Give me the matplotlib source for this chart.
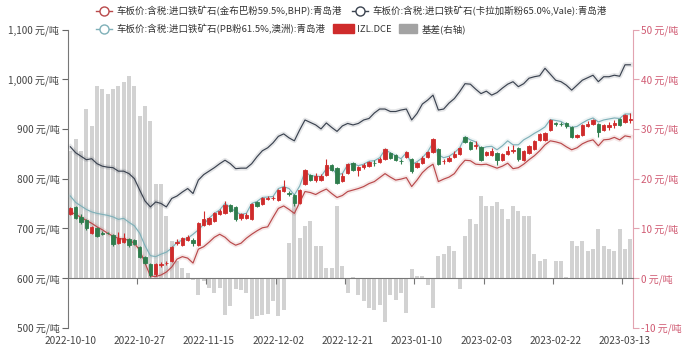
import matplotlib
matplotlib.use('Agg')
import matplotlib.pyplot as plt
import matplotlib.patheffects as pe
from matplotlib.lines import Line2D
from matplotlib.patches import Patch
from matplotlib.ticker import FuncFormatter, FixedLocator
import numpy as np

plt.rcParams['font.family'] = ['Noto Sans CJK SC', 'DejaVu Sans']

tick_labels = ['2022-10-10', '2022-10-27', '2022-11-15', '2022-12-02', '2022-12-21',
               '2023-01-10', '2023-02-03', '2023-02-22', '2023-03-13']
label_step = 13

bhp = [733, 728, 722, 716, 710, 703, 697, 690, 684, 680,
       678, 676, 670, 656, 630, 604, 603, 606, 612, 622,
       638, 643, 640, 630, 658, 663, 672, 682, 688, 682,
       672, 666, 670, 680, 688, 695, 701, 703, 722, 740,
       745, 738, 730, 752, 774, 772, 768, 774, 779, 770,
       762, 766, 774, 777, 780, 784, 790, 794, 802, 810,
       803, 797, 799, 802, 784, 797, 812, 822, 829, 794,
       799, 803, 810, 825, 837, 836, 829, 828, 829, 825,
       821, 825, 831, 820, 822, 829, 838, 846, 856, 868,
       876, 874, 871, 864, 858, 862, 870, 875, 878, 866,
       878, 879, 883, 878, 886, 884]

vale = [864, 852, 845, 838, 840, 830, 825, 823, 822, 815,
        815, 810, 800, 777, 755, 743, 753, 750, 743, 760,
        765, 773, 780, 770, 797, 808, 815, 822, 830, 837,
        830, 820, 821, 821, 830, 844, 856, 862, 872, 885,
        890, 882, 876, 898, 918, 913, 908, 900, 912, 903,
        895, 906, 911, 908, 911, 918, 921, 932, 940, 940,
        935, 935, 938, 940, 918, 931, 950, 958, 968, 938,
        940, 952, 961, 975, 991, 990, 980, 971, 976, 968,
        973, 982, 990, 995, 985, 991, 1002, 1005, 1007, 1022,
        1010, 998, 995, 988, 978, 988, 998, 1003, 1008, 995,
        1005, 1005, 1008, 1006, 1029, 1029]

pb = [765, 752, 745, 738, 733, 730, 728, 726, 723, 718,
      720, 712, 705, 690, 665, 645, 643, 648, 652, 660,
      672, 676, 680, 688, 697, 708, 720, 730, 737, 750,
      742, 733, 728, 730, 750, 754, 762, 763, 764, 780,
      784, 780, 767, 785, 814, 806, 805, 804, 820, 822,
      808, 810, 828, 830, 826, 829, 835, 836, 842, 858,
      852, 846, 840, 852, 828, 834, 842, 854, 872, 848,
      842, 845, 852, 862, 884, 878, 874, 860, 864, 865,
      858, 866, 876, 868, 868, 878, 884, 891, 897, 904,
      919, 917, 915, 908, 903, 905, 912, 918, 922, 914,
      918, 920, 922, 921, 930, 930]

izl_open = [729, 743, 723, 717, 691, 701, 690, 691, 686, 671,
            672, 678, 676, 663, 643, 628, 608, 627, 630, 634,
            671, 666, 677, 676, 666, 707, 709, 715, 729, 731,
            746, 743, 721, 720, 718, 752, 749, 759, 760, 757,
            776, 772, 767, 750, 790, 808, 797, 798, 808, 828,
            822, 795, 812, 831, 818, 823, 826, 832, 834, 840,
            852, 848, 836, 844, 840, 824, 832, 844, 854, 860,
            835, 836, 844, 850, 883, 874, 866, 864, 847, 848,
            851, 838, 850, 855, 862, 838, 851, 860, 877, 877,
            897, 911, 910, 911, 903, 883, 887, 906, 910, 910,
            897, 904, 907, 920, 913, 918]
izl_close = [740, 720, 712, 700, 703, 685, 689, 690, 668, 680,
             680, 666, 669, 643, 631, 606, 628, 628, 631, 663,
             673, 680, 683, 670, 710, 718, 720, 730, 735, 746,
             734, 718, 728, 727, 749, 745, 760, 760, 761, 778,
             783, 770, 750, 777, 818, 798, 805, 806, 828, 818,
             792, 806, 829, 817, 824, 827, 834, 831, 840, 860,
             842, 838, 835, 854, 815, 832, 842, 854, 880, 830,
             836, 842, 850, 862, 874, 860, 868, 837, 854, 855,
             838, 849, 856, 858, 839, 855, 865, 875, 890, 892,
             918, 910, 909, 906, 884, 887, 907, 909, 917, 893,
             907, 908, 912, 907, 927, 920]
izl_low = [727, 718, 708, 697, 689, 683, 686, 688, 665, 669,
           670, 663, 667, 640, 628, 603, 605, 622, 626, 632,
           666, 664, 675, 664, 664, 705, 706, 713, 726, 729,
           732, 715, 716, 718, 716, 743, 747, 756, 756, 755,
           774, 765, 745, 748, 788, 795, 793, 795, 806, 815,
           790, 793, 810, 815, 806, 820, 824, 826, 832, 838,
           840, 835, 830, 842, 812, 822, 830, 842, 852, 828,
           830, 834, 842, 848, 872, 858, 860, 835, 845, 845,
           828, 836, 848, 852, 836, 836, 849, 858, 875, 875,
           895, 906, 905, 902, 882, 881, 885, 903, 908, 883,
           895, 898, 902, 905, 911, 912]
izl_high = [742, 745, 728, 719, 705, 703, 694, 693, 688, 692,
            690, 681, 679, 665, 645, 630, 631, 633, 635, 665,
            678, 683, 686, 680, 712, 735, 722, 733, 738, 755,
            748, 745, 730, 730, 751, 755, 762, 764, 764, 780,
            797, 776, 770, 780, 820, 810, 812, 810, 840, 830,
            824, 812, 831, 833, 826, 832, 836, 838, 843, 862,
            854, 850, 840, 856, 842, 834, 845, 856, 882, 862,
            840, 845, 856, 864, 886, 876, 876, 866, 856, 862,
            853, 851, 866, 868, 864, 857, 867, 877, 892, 894,
            920, 914, 913, 914, 905, 889, 909, 916, 919, 912,
            909, 914, 918, 922, 929, 932]

basis = [25.5, 28.0, 25.5, 34.0, 30.5, 38.6, 38.0, 37.0, 38.0, 38.6,
         39.5, 40.6, 38.6, 32.5, 34.6, 31.5, 19.0, 19.0, 12.5, 7.4,
         3.5, 2.0, 1.0, -0.4, -3.4, -0.7, -2.1, -3.1, -2.0, -7.5,
         -5.6, -2.2, -2.5, -3.0, -8.2, -7.7, -7.5, -7.2, -4.6, -7.6,
         -6.4, 7.0, 16.2, 8.0, 10.5, 11.4, 6.5, 6.5, 2.0, 2.0,
         14.5, 2.4, -3.0, 0.3, -3.5, -4.6, -6.0, -6.5, -5.5, -8.8,
         -3.4, -4.4, -3.0, -7.0, 1.9, 0.4, 0.4, -1.5, -6.0, 4.4,
         4.9, 6.4, 5.4, -2.2, 8.4, 11.9, 10.9, 16.4, 14.4, 14.4,
         15.3, 13.8, 11.9, 14.4, 13.4, 12.4, 12.4, 4.9, 3.4, 3.9,
         0.0, 3.4, 3.4, 0.3, 7.4, 6.4, 7.4, 5.4, 5.9, 9.9,
         6.4, 5.9, 5.4, 9.9, 5.9, 7.9]

names = ['车板价:含税:进口铁矿石(金布巴粉59.5%,BHP):青岛港',
         '车板价:含税:进口铁矿石(卡拉加斯粉65.0%,Vale):青岛港',
         '车板价:含税:进口铁矿石(PB粉61.5%,澳洲):青岛港',
         'IZL.DCE', '基差(右轴)']

c_bhp = '#b9494b'
c_vale = '#3b4350'
c_pb = '#7fb0b8'
c_up = '#cf2b2b'
c_down = '#2f7d4d'
c_bar = '#d2d2d2'
c_right = '#d05a72'

n = len(bhp)
x = np.arange(n)

W, H = 700, 356
fig = plt.figure(figsize=(W / 100, H / 100), dpi=100)
ax = fig.add_axes([0.0967, 0.0795, 0.8076, 0.8376])
ax2 = ax.twinx()

# basis bars on right axis (drawn beneath)
ax2.bar(x, basis, width=0.72, color=c_bar, zorder=1)
ax2.set_ylim(-10, 50)
ax2.set_yticks(np.arange(-10, 51, 10))
ax2.yaxis.set_major_formatter(FuncFormatter(lambda v, p: f'{v:.0f} 元/吨'))
ax2.tick_params(axis='y', colors=c_right, labelsize=7.2, length=4, width=0.8, pad=2)
ax2.tick_params(axis='y', color='#e2a3b0')
for s in ['top', 'left', 'bottom']:
    ax2.spines[s].set_visible(False)
ax2.spines['right'].set_color('#e2a3b0')

ax.set_zorder(ax2.get_zorder() + 1)
ax.patch.set_visible(False)

glow = lambda c: [pe.Stroke(linewidth=3.4, foreground=c, alpha=0.13), pe.Normal()]
ax.plot(x, vale, color=c_vale, lw=0.85, path_effects=glow(c_vale), zorder=3)
ax.plot(x, bhp, color=c_bhp, lw=0.85, path_effects=glow(c_bhp), zorder=3)
ax.plot(x, pb, color=c_pb, lw=0.85, path_effects=glow(c_pb), zorder=3)

o = np.array(izl_open); c = np.array(izl_close)
lo = np.array(izl_low); hi = np.array(izl_high)
up = c >= o
cols = np.where(up, c_up, c_down)
ax.vlines(x, lo, hi, colors=cols, lw=0.8, zorder=4)
ax.bar(x, np.abs(c - o), bottom=np.minimum(o, c), width=0.66, color=cols,
       edgecolor=cols, linewidth=0.6, zorder=5)

ax.set_xlim(-0.5, n - 0.5)
ax.set_ylim(500, 1100)
ax.set_yticks(np.arange(500, 1101, 100))
ax.yaxis.set_major_formatter(FuncFormatter(lambda v, p: f'{v:,.0f} 元/吨'))
ax.tick_params(axis='y', labelcolor='#444444', labelsize=7.2, length=4, width=0.8,
               pad=2, color='#666666')

pos = np.arange(len(tick_labels)) * label_step
ax.xaxis.set_major_locator(FixedLocator(pos))
ax.set_xticklabels(tick_labels)
ax.xaxis.set_minor_locator(FixedLocator(pos[1:] - 0.5))
ax.spines['bottom'].set_position(('data', 600))
ax.spines['bottom'].set_color('#777777')
ax.tick_params(axis='x', which='major', length=0, pad=41.5, labelsize=7.3, colors='#444444')
ax.tick_params(axis='x', which='minor', length=4, width=0.8, color='#777777')
for s in ['top', 'right']:
    ax.spines[s].set_visible(False)
ax.spines['left'].set_color('#777777')


def line_handle(col):
    return Line2D([0], [0], color=col, lw=1.0, marker='o', markersize=6.5,
                  markerfacecolor='white', markeredgecolor=col, markeredgewidth=1.0)


LFS = 6.8


def add_item(handle, label, px, py, hl, pad, hh=0.7):
    lg = fig.legend([handle], [label], loc='center left',
                    bbox_to_anchor=(px / W, 1 - py / H), frameon=False, fontsize=LFS,
                    handlelength=hl, handleheight=hh, handletextpad=pad,
                    borderaxespad=0, borderpad=0)
    for t in lg.get_texts():
        t.set_color('#333333')
    return lg


add_item(line_handle(c_bhp), names[0], 96, 11, 1.7, 0.5)
add_item(line_handle(c_vale), names[1], 352, 11, 1.7, 0.5)
add_item(line_handle(c_pb), names[2], 96, 29, 1.7, 0.5)
add_item(Patch(color=c_up), names[3], 333, 29, 2.2, 0.35, 1.0)
add_item(Patch(color='#a3a3a3'), names[4], 399, 29, 1.9, 0.5, 1.0)

fig.savefig('out.png', dpi=100)
